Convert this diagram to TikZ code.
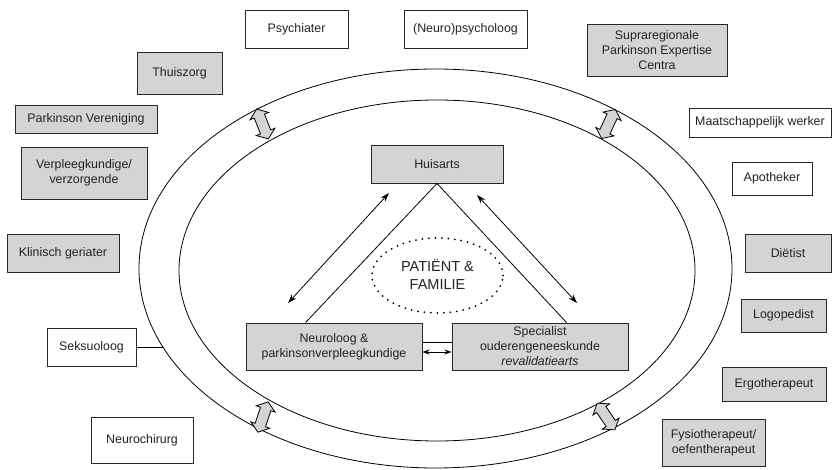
\documentclass[tikz,border=0pt]{standalone}
\usepackage{fontspec}
\setmainfont{Liberation Sans}
\usetikzlibrary{arrows.meta,calc}
\definecolor{boxgray}{RGB}{212,212,212}
\definecolor{linegray}{RGB}{40,40,40}
\definecolor{textgray}{RGB}{35,35,35}
\newcommand{\boxfont}{\fontsize{12.4}{15}\selectfont}
\newcommand{\bigfont}{\fontsize{14.5}{18}\selectfont}
\tikzset{
  gbox/.style={draw=linegray, line width=0.9pt, fill=boxgray, align=center, inner sep=1pt, font=\boxfont, text=textgray},
  wbox/.style={gbox, fill=white},
  ring/.style={draw=black, line width=0.8pt},
  thin/.style={draw=black, line width=0.8pt},
  twoway/.style={thin, {Stealth[length=9pt,width=6pt]}-{Stealth[length=9pt,width=6pt]}},
  smalltwoway/.style={thin, {Stealth[length=7pt,width=5pt]}-{Stealth[length=7pt,width=5pt]}},
  blockarrow/.style={draw=black, line width=0.8pt, fill=boxgray, line join=miter}
}
\begin{document}
\begin{tikzpicture}[x=1pt,y=-1pt]
\useasboundingbox (0,0) rectangle (832,470);
\fill[white] (0,0) rectangle (832,470);

% rings
\draw[ring] (435.5,268.5) ellipse [x radius=296.5pt, y radius=199.5pt];
\draw[ring] (437,270.5) ellipse [x radius=258pt, y radius=170.5pt];

% block arrows between rings
\foreach \px/\py/\ang in {262.5/124/111.5, 608.5/124/65, 263/417/71.6, 606/416.5/123.7}{
  \draw[blockarrow, shift={(\px,\py)}, rotate=\ang]
    (-16,0) -- (-8.5,10) -- (-8.5,5.5) -- (8.5,5.5) -- (8.5,10) -- (16,0)
    -- (8.5,-10) -- (8.5,-5.5) -- (-8.5,-5.5) -- (-8.5,-10) -- cycle;
}

% outer boxes
\node[wbox, minimum width=103pt, minimum height=38pt] (psy) at (296.5,29) {Psychiater};
\node[wbox, minimum width=123pt, minimum height=38pt] (npsy) at (465.5,29) {(Neuro)psycholoog};
\node[gbox, minimum width=85pt, minimum height=42pt] (thuis) at (179.5,73) {Thuiszorg};
\node[gbox, minimum width=142pt, minimum height=28pt] (pv) at (86,119) {Parkinson Vereniging};
\node[gbox, minimum width=126pt, minimum height=52pt] (verpl) at (84,173) {Verpleegkundige/\\verzorgende};
\node[gbox, minimum width=112pt, minimum height=38pt] (klin) at (63,253) {Klinisch geriater};
\node[wbox, minimum width=89pt, minimum height=38pt] (seks) at (91.5,347) {Seksuoloog};
\node[wbox, minimum width=102pt, minimum height=46pt] (nchir) at (142,440) {Neurochirurg};
\node[gbox, minimum width=140pt, minimum height=52pt] (supra) at (657,50) {Supraregionale\\Parkinson Expertise\\Centra};
\node[wbox, minimum width=142pt, minimum height=29pt] (maat) at (760,122.5) {Maatschappelijk werker};
\node[wbox, minimum width=80pt, minimum height=33pt] (apo) at (772,178.5) {Apotheker};
\node[gbox, minimum width=86pt, minimum height=38pt] (diet) at (788,253) {Diëtist};
\node[gbox, minimum width=85pt, minimum height=33pt] (logo) at (783.5,315.5) {Logopedist};
\node[gbox, minimum width=104pt, minimum height=34pt] (ergo) at (774,384) {Ergotherapeut};
\node[gbox, minimum width=103pt, minimum height=47pt] (fysio) at (713.5,442.5) {Fysiotherapeut/\\oefentherapeut};

% inner triangle
\node[gbox, minimum width=132pt, minimum height=38pt] (huis) at (437,164) {Huisarts};
\node[gbox, minimum width=176pt, minimum height=47pt] (neuro) at (334,346.5) {Neuroloog \&\\parkinsonverpleegkundige};
\node[gbox, minimum width=176pt, minimum height=47pt] (spec) at (540,346.5) {Specialist\\ouderengeneeskunde\\\textit{revalidatiearts}};

\draw[thin] (huis.south) -- ([xshift=60pt]neuro.north west);
\draw[thin] (huis.south) -- ([xshift=115pt]spec.north west);
\draw[thin] ([yshift=4.5pt]neuro.east) -- ([yshift=4.5pt]spec.west);
\draw[smalltwoway] ([yshift=-5.5pt]neuro.east) -- ([yshift=-5.5pt]spec.west);

\coordinate (la1) at (389,193);
\coordinate (la2) at (288,303);
\coordinate (ra1) at (477,195);
\coordinate (ra2) at (577,303);
\draw[twoway] (la1) -- (la2);
\draw[twoway] (ra1) -- (ra2);

% patient
\draw[draw=black, line width=2pt, line cap=round, dash pattern=on 0pt off 6.5pt]
  (437.5,275.5) ellipse [x radius=65.5pt, y radius=37.5pt];
\node[align=center, font=\bigfont, text=textgray, inner sep=0pt] (pat) at (437.5,274) {PATIËNT \&\\FAMILIE};

% seksuoloog link
\coordinate (sring) at (162.9,347);
\draw[thin] (seks.east) -- (sring);
\end{tikzpicture}
\end{document}
